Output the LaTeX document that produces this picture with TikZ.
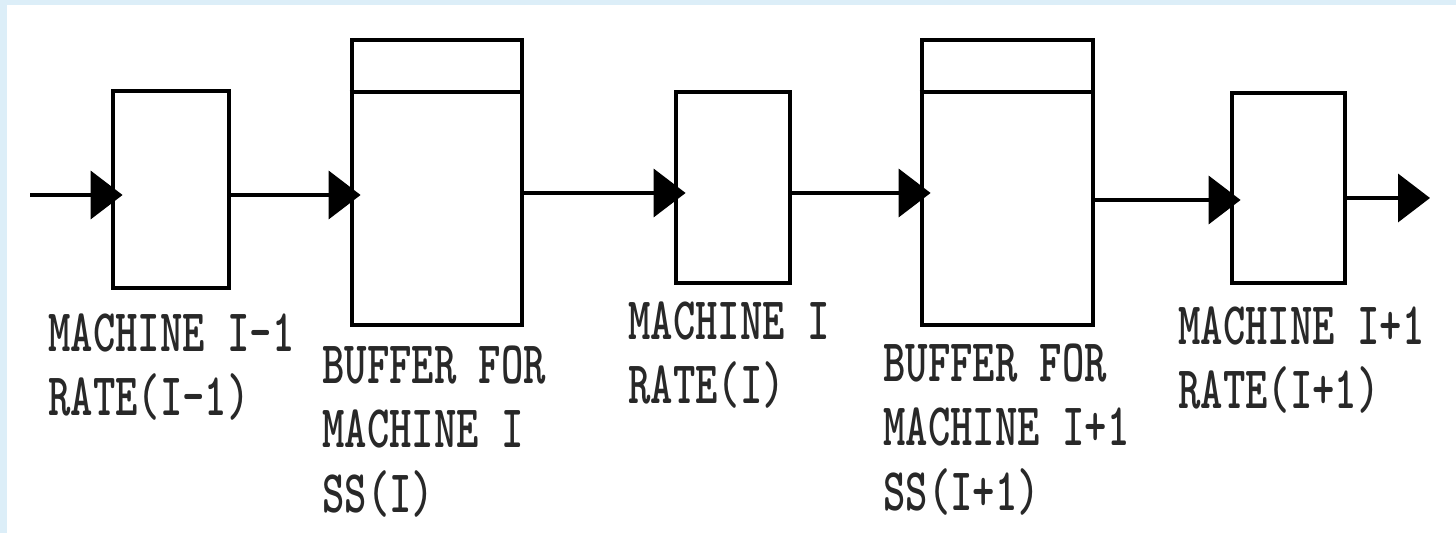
\documentclass[tikz,border=0pt]{standalone}
\usepackage{fontspec}
\usetikzlibrary{arrows.meta,calc}
\definecolor{framebg}{RGB}{220,238,248}
\definecolor{inkgray}{RGB}{40,40,40}
\tikzset{
  x=0.5pt, y=-0.5pt,
  machine/.style={draw=black, line width=2.4pt, fill=white, inner sep=0pt},
  conn/.style={line width=1.9pt, -{Triangle[length=16pt,width=24pt]}},
  lab/.style={anchor=north west, inner sep=0pt, align=left, yscale=1.42,
    text=inkgray, font=\ttfamily\bfseries\fontsize{21.3}{22.7}\selectfont}
}
\begin{document}
\begin{tikzpicture}
\useasboundingbox (0,0) rectangle (1456,533);
\fill[framebg] (0,0) rectangle (1456,533);
\fill[white] (7,5) rectangle (1456,533);

% boxes
\node[machine, minimum width=58pt, minimum height=98.5pt] (m1) at (171,189.5) {};
\node[machine, minimum width=85pt, minimum height=142.5pt] (b1) at (437,182.5) {};
\node[machine, minimum width=57pt, minimum height=95.5pt] (m2) at (733,187.5) {};
\node[machine, minimum width=85.5pt, minimum height=142.5pt] (b2) at (1007.5,182.5) {};
\node[machine, minimum width=56.5pt, minimum height=95pt] (m3) at (1288.5,188) {};

% buffer dividers
\coordinate (dv) at (0,92);
\draw[line width=1.9pt] (b1.west |- dv) -- (b1.east |- dv);
\draw[line width=1.9pt] (b2.west |- dv) -- (b2.east |- dv);

% connector levels
\coordinate (src) at (30,195);
\coordinate (ya) at (0,195);
\coordinate (yb) at (0,193);
\coordinate (yc) at (0,200);
\coordinate (snk) at (1430,198);

\draw[conn] (src) -- ($(m1.west |- ya)+(12,0)$);
\draw[conn] (m1.east |- ya) -- ($(b1.west |- ya)+(11,0)$);
\draw[conn] (b1.east |- yb) -- ($(m2.west |- yb)+(12,0)$);
\draw[conn] (m2.east |- yb) -- ($(b2.west |- yb)+(11,0)$);
\draw[conn] (b2.east |- yc) -- ($(m3.west |- yc)+(11,0)$);
\draw[conn] (m3.east |- snk) -- (snk);

% labels
\node[lab] (l1) at (48,313) {MACHINE I-1\\RATE(I-1)};
\node[lab] (l2) at (322,345) {BUFFER FOR\\MACHINE I\\SS(I)};
\node[lab] (l3) at (628,301) {MACHINE I\\RATE(I)};
\node[lab] (l4) at (883,343) {BUFFER FOR\\MACHINE I+1\\SS(I+1)};
\node[lab] (l5) at (1178,306) {MACHINE I+1\\RATE(I+1)};
\end{tikzpicture}
\end{document}
